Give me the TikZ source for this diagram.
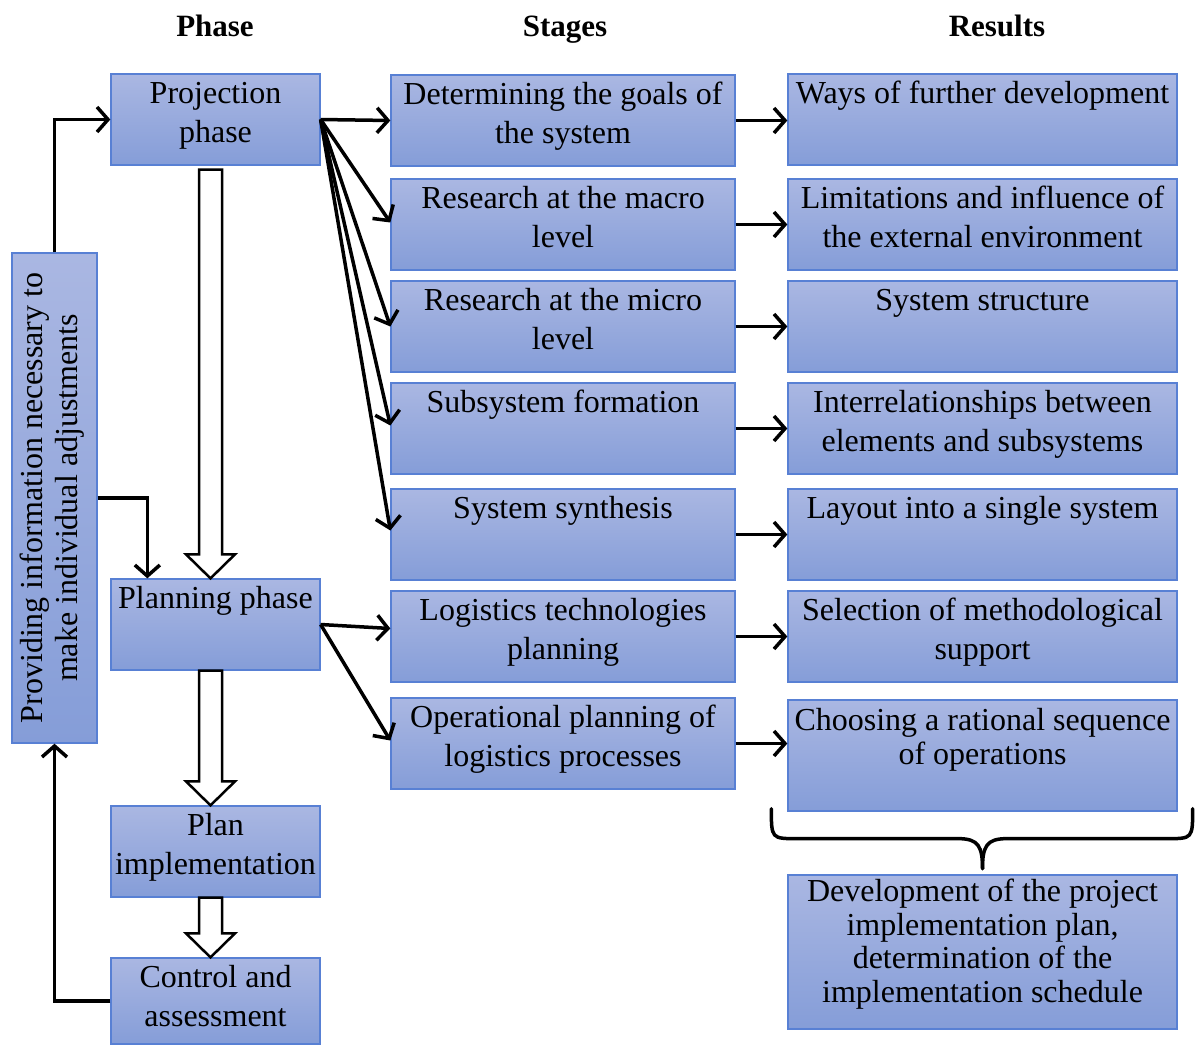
\documentclass[tikz,border=0pt]{standalone}
\usepackage{fontspec}
\setmainfont{Liberation Serif}
\usetikzlibrary{arrows.meta,calc,fit}
\definecolor{boxtop}{RGB}{170,183,226}
\definecolor{boxbot}{RGB}{133,157,216}
\definecolor{boxborder}{RGB}{88,128,212}
\newcommand\mkbox[6]{%
  \node[boxst, fit={(#2,#3) (#4,#5)}] (#1) {};
  \node[txt] (#1t) at ([yshift=-7pt]#1.north) {\rule{0pt}{23pt}#6};
}
\newcommand\blockarr[4]{% from, to, x offset, top gap
  \draw[blockst] let \p1=(#1.south), \p2=(#2.north) in
    (\x1+#3pt-11.5pt,\y1-#4pt) -- (\x1+#3pt+11.5pt,\y1-#4pt) -- (\x1+#3pt+11.5pt,\y2+24pt)
    -- (\x1+#3pt+24.5pt,\y2+24pt) -- (\x1+#3pt,\y2) -- (\x1+#3pt-24.5pt,\y2+24pt)
    -- (\x1+#3pt-11.5pt,\y2+24pt) -- cycle;
}
\begin{document}
\begin{tikzpicture}[x=1pt,y=-1pt,
  boxst/.style={draw=boxborder, line width=1.3pt, top color=boxtop, bottom color=boxbot, inner sep=0pt},
  txt/.style={anchor=north, align=center, inner sep=0pt, font=\fontsize{32}{38.5}\selectfont},
  head/.style={anchor=base, inner sep=0pt, font=\fontsize{31}{36}\selectfont\bfseries},
  conn/.style={line width=3.5pt, -{Straight Barb[length=11pt,width=25pt]}},
  plain/.style={line width=3.5pt},
  blockst/.style={draw=black, line width=2.5pt, fill=white, line join=miter}]
\useasboundingbox (0,0) rectangle (1203,1045);

% headers
\node[head] (hphase) at (215,36) {Phase};
\node[head] (hstages) at (565,36) {Stages};
\node[head] (hresults) at (997,36) {Results};

% phase column
\mkbox{proj}{111}{74}{320}{165}{Projection\\phase}
\mkbox{plan}{111}{579}{320}{670}{Planning phase}
\mkbox{impl}{111}{806}{320}{897}{Plan\\implementation}
\mkbox{ctrl}{111}{958}{320}{1044}{Control and\\assessment}

% left feedback box
\node[boxst, fit={(12,253) (97,743)}] (left) {};
\node[rotate=90, align=center, inner sep=0pt, font=\fontsize{32}{35}\selectfont] (leftt) at ([xshift=-2pt]left.center) {Providing information necessary to\\make individual adjustments};

% stages
\mkbox{det}{391}{75}{735}{166}{Determining the goals of\\the system}
\mkbox{mac}{391}{179}{735}{270}{Research at the macro\\level}
\mkbox{mic}{391}{281}{735}{372}{Research at the micro\\level}
\mkbox{sub}{391}{383}{735}{474}{Subsystem formation}
\mkbox{syn}{391}{489}{735}{580}{System synthesis}
\mkbox{log}{391}{591}{735}{682}{Logistics technologies\\planning}
\mkbox{ope}{391}{698}{735}{789}{Operational planning of\\logistics processes}

% results
\mkbox{way}{788}{74}{1177}{165}{Ways of further development}
\mkbox{lim}{788}{179}{1177}{270}{Limitations and influence of\\the external environment}
\mkbox{str}{788}{281}{1177}{372}{System structure}
\mkbox{int}{788}{383}{1177}{474}{Interrelationships between\\elements and subsystems}
\mkbox{lay}{788}{489}{1177}{580}{Layout into a single system}
\mkbox{sel}{788}{591}{1177}{682}{Selection of methodological\\support}
\node[boxst, fit={(788,700) (1177,811)}] (cho) {};
\node[txt, font=\fontsize{32}{34}\selectfont] (chot) at ([yshift=-8pt]cho.north) {\rule{0pt}{23pt}Choosing a rational sequence\\of operations};
\node[boxst, fit={(788,875) (1177,1029)}] (dev) {};
\node[txt, font=\fontsize{32}{33.5}\selectfont] (devt) at ([yshift=-4pt]dev.north) {\rule{0pt}{23pt}Development of the project\\implementation plan,\\determination of the\\implementation schedule};

% block arrows
\blockarr{proj}{plan}{-5}{4}
\blockarr{plan}{impl}{-5}{0}
\blockarr{impl}{ctrl}{-5}{0}

% feedback connectors
\draw[conn] (ctrl.west) -| (left.south);
\draw[conn] (left.north) |- (proj.west);
\coordinate (pin) at ($(plan.north west)+(37,0)$);
\draw[conn] (left.east) -| (pin);

% fan from projection phase
\draw[conn] (proj.east) -- (det.west);
\draw[conn] (proj.east) -- ([yshift=2pt]mac.west);
\draw[conn] (proj.east) -- (mic.west);
\draw[conn] (proj.east) -- ([yshift=3pt]sub.west);
\draw[conn] (proj.east) -- ([yshift=4pt]syn.west);

% from planning phase
\draw[conn] (plan.east) -- ([yshift=8pt]log.west);
\draw[conn] (plan.east) -- ([yshift=3pt]ope.west);

% stage -> result
\draw[conn] (det.east) -- (det.east -| way.west);
\draw[conn] (mac.east) -- (mac.east -| lim.west);
\draw[conn] (mic.east) -- (mic.east -| str.west);
\draw[conn] (sub.east) -- (sub.east -| int.west);
\draw[conn] (syn.east) -- (syn.east -| lay.west);
\draw[conn] (log.east) -- (log.east -| sel.west);
\draw[conn] (ope.east) -- (ope.east -| cho.west);

% brace
\coordinate (bl) at ($(cho.south west)+(-16,-3)$);
\coordinate (br) at ($(cho.south east)+(15,-3)$);
\coordinate (bt) at ($(cho.south)+(0,57)$);
\draw[plain, line cap=round] (bl) .. controls ($(bl)+(0,30)$) and ($(bl)+(0,30)$) .. ($(bl)+(26,30)$)
  -- ($(bt)+(-24,-30)$) .. controls ($(bt)+(-4,-30)$) and ($(bt)+(0,-22)$) .. (bt);
\draw[plain, line cap=round] (br) .. controls ($(br)+(0,30)$) and ($(br)+(0,30)$) .. ($(br)+(-26,30)$)
  -- ($(bt)+(24,-30)$) .. controls ($(bt)+(4,-30)$) and ($(bt)+(0,-22)$) .. (bt);
\end{tikzpicture}
\end{document}
